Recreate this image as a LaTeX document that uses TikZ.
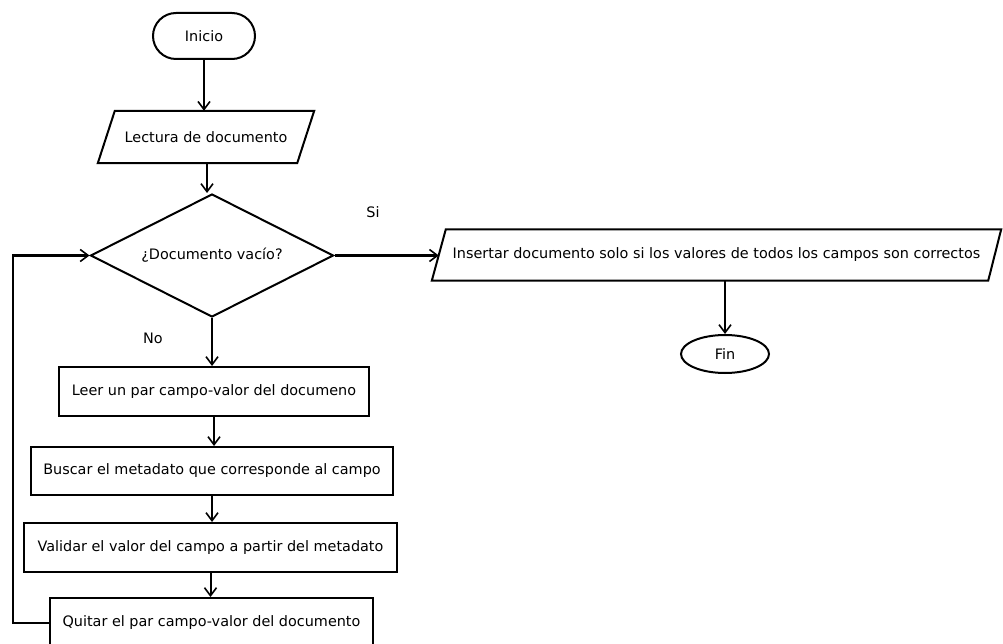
\documentclass[tikz,border=0pt]{standalone}
\usepackage{fontspec}
\setmainfont{DejaVu Sans}
\usetikzlibrary{shapes.geometric,arrows.meta}
\begin{document}
\begin{tikzpicture}[x=1pt,y=-1pt,
  every node/.style={font=\fontsize{14.4}{16}\selectfont, text=black},
  ln/.style={line width=2pt, draw=black},
  arr/.style={ln, -{Straight Barb[length=8pt,width=12pt,line width=1.6pt]}},
  procbox/.style={ln, rectangle, inner sep=0pt},
  iobox/.style={rectangle, inner sep=0pt, draw=none},
  lbl/.style={inner sep=0pt}
]
\useasboundingbox (0,0) rectangle (1003,644);
\fill[white] (0,0) rectangle (1003,644);

\node[ln, rectangle, rounded corners=23pt, minimum width=102pt, minimum height=46pt, inner sep=0pt] (ini) at (204,36) {Inicio};

\node[iobox, minimum width=216pt, minimum height=52pt] (lec) at (206,137) {Lectura de documento};
\draw[ln] (lec.south west) -- ([xshift=-17pt]lec.south east) -- (lec.north east) -- ([xshift=17pt]lec.north west) -- cycle;

\node[ln, diamond, aspect=2, minimum width=243pt, minimum height=123pt, inner sep=0pt] (dec) at (212,255.5) {¿Documento vacío?};

\node[iobox, minimum width=569pt, minimum height=51pt] (ins) at (716.5,255) {Insertar documento solo si los valores de todos los campos son correctos};
\draw[ln] (ins.south west) -- ([xshift=-13pt]ins.south east) -- (ins.north east) -- ([xshift=14pt]ins.north west) -- cycle;

\node[ln, ellipse, minimum width=88pt, minimum height=38pt, inner sep=0pt] (fin) at (725,354) {Fin};

\node[procbox, minimum width=310pt, minimum height=49pt] (b1) at (214,391.5) {Leer un par campo-valor del documeno};
\node[procbox, minimum width=362pt, minimum height=48pt] (b2) at (212,471) {Buscar el metadato que corresponde al campo};
\node[procbox, minimum width=373pt, minimum height=49pt] (b3) at (210.5,547.5) {Validar el valor del campo a partir del metadato};
\node[procbox, minimum width=323pt, minimum height=49pt] (b4) at (211.5,622.5) {Quitar el par campo-valor del documento};

\node[lbl] (si) at (373,212) {Si};
\node[lbl] (no) at (153,338) {No};

\coordinate (lp) at (13,0);

\draw[arr] (ini.south) -- (ini.south |- lec.north);
\draw[arr] ([xshift=1pt]lec.south) -- ([xshift=1pt]lec.south |- dec.north);
\draw[arr] (dec.south) -- (dec.south |- b1.north);
\draw[arr] (b1.south) -- (b1.south |- b2.north);
\draw[arr] (b2.south) -- (b2.south |- b3.north);
\draw[arr] (b3.south) -- (b3.south |- b4.north);
\draw[arr] (dec.east) -- ([xshift=7pt]ins.west |- dec.east);
\draw[arr] (fin.north |- ins.south) -- (fin.north);
\draw[arr] (b4.west) -- (b4.west -| lp) |- (dec.west);
\end{tikzpicture}
\end{document}
